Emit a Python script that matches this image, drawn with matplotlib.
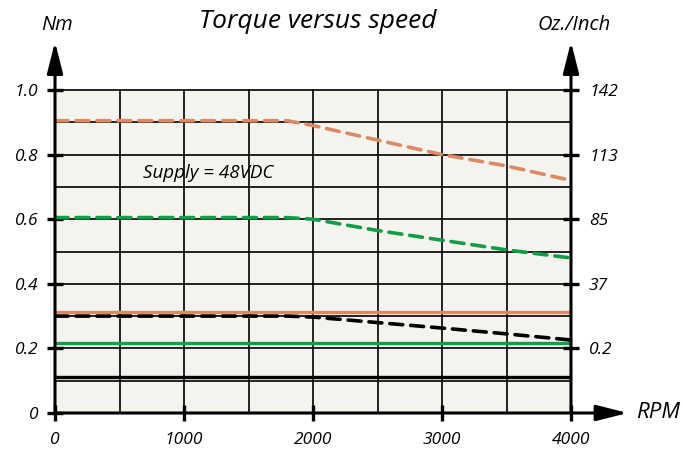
import numpy as np
import matplotlib
matplotlib.use("Agg")
import matplotlib.pyplot as plt

# Torque curves (RPM vs Nm)
rpm = [0, 1000, 1800, 2000, 2500, 3000, 3500, 4000]
orange_dash = [0.905, 0.905, 0.905, 0.89, 0.845, 0.80, 0.765, 0.72]
green_dash = [0.605, 0.605, 0.605, 0.60, 0.565, 0.535, 0.505, 0.48]
black_dash = [0.30, 0.30, 0.30, 0.297, 0.28, 0.263, 0.245, 0.226]
flat_rpm = [0, 4000]
orange_solid = [0.313, 0.313]
green_solid = [0.216, 0.216]
black_solid = [0.111, 0.111]

left_ticks = [0, 0.2, 0.4, 0.6, 0.8, 1.0]
left_labels = ["0", "0.2", "0.4", "0.6", "0.8", "1.0"]
right_ticks = [0.2, 0.4, 0.6, 0.8, 1.0]
right_labels = ["0.2", "37", "85", "113", "142"]
x_ticks = [0, 1000, 2000, 3000, 4000]

ORANGE = "#dc8a64"
GREEN = "#0f9d45"
FONT = "Open Sans"

fig = plt.figure(figsize=(6.83, 4.5), dpi=100)
ax = fig.add_axes([55 / 683, 37 / 450, 516 / 683, 323 / 450])
ax.set_facecolor("#f4f3ee")
ax.set_xlim(0, 4000)
ax.set_ylim(0, 1.0)
for s in ax.spines.values():
    s.set_visible(False)

# grid
for gx in np.arange(0, 4001, 500):
    ax.axvline(gx, color="black", lw=1.2, zorder=1, clip_on=False)
for gy in np.arange(0, 1.01, 0.1):
    ax.axhline(gy, color="black", lw=1.2, zorder=1, clip_on=False)

# curves
ax.plot(flat_rpm, black_solid, color="black", lw=2.4, zorder=3)
ax.plot(flat_rpm, green_solid, color=GREEN, lw=2.4, zorder=3)
ax.plot(flat_rpm, orange_solid, color=ORANGE, lw=2.4, zorder=3)
for vals, col in [(orange_dash, ORANGE), (green_dash, GREEN), (black_dash, "black")]:
    ln, = ax.plot(rpm, vals, color=col, lw=2.6, zorder=4, solid_capstyle="round",
                  dash_capstyle="round")
    ln.set_dashes((3.6, 2.2))

# axes arrows
arrow = dict(arrowstyle="-|>,head_length=0.95,head_width=0.24", color="black",
             lw=2.2, shrinkA=0, shrinkB=0, mutation_scale=20)
ax.annotate("", xy=(0, 1.149), xytext=(0, 0), xycoords="axes fraction",
            arrowprops=arrow, zorder=6, annotation_clip=False)
ax.annotate("", xy=(1, 1.149), xytext=(1, 0), xycoords="axes fraction",
            arrowprops=arrow, zorder=6, annotation_clip=False)
ax.annotate("", xy=(1.11, 0), xytext=(0, 0), xycoords="axes fraction",
            arrowprops=arrow, zorder=6, annotation_clip=False)

# ticks
tick_font = dict(family=FONT, style="italic", size=12.5)
ax.set_xticks(x_ticks)
ax.set_xticklabels([str(t) for t in x_ticks], **tick_font)
ax.set_yticks(left_ticks)
ax.set_yticklabels(left_labels, **tick_font)
ax.tick_params(axis="both", direction="inout", length=12, width=2.4, color="black")
ax.tick_params(axis="x", pad=8)
ax.tick_params(axis="y", pad=6)

ax2 = ax.twinx()
ax2.set_ylim(0, 1.0)
for s in ax2.spines.values():
    s.set_visible(False)
ax2.set_yticks(right_ticks)
ax2.set_yticklabels(right_labels, **tick_font)
ax2.tick_params(axis="y", direction="inout", length=12, width=2.4, pad=7)

# texts
fig.text(318 / 683, 1 - 22 / 450, "Torque versus speed", family=FONT, style="italic",
         size=19, ha="center", va="center")
fig.text(57 / 683, 1 - 25 / 450, "Nm", family=FONT, style="italic", size=14.5,
         ha="center", va="center")
fig.text(574 / 683, 1 - 25 / 450, "Oz./Inch", family=FONT, style="italic", size=14.5,
         ha="center", va="center")
fig.text(658 / 683, 1 - 412 / 450, "RPM", family=FONT, style="italic", size=16,
         ha="center", va="center")
ax.text(1190, 0.743, "Supply = 48VDC", family=FONT, style="italic",
        size=13.5, ha="center", va="center", zorder=5)

fig.savefig("out.png", dpi=100)
